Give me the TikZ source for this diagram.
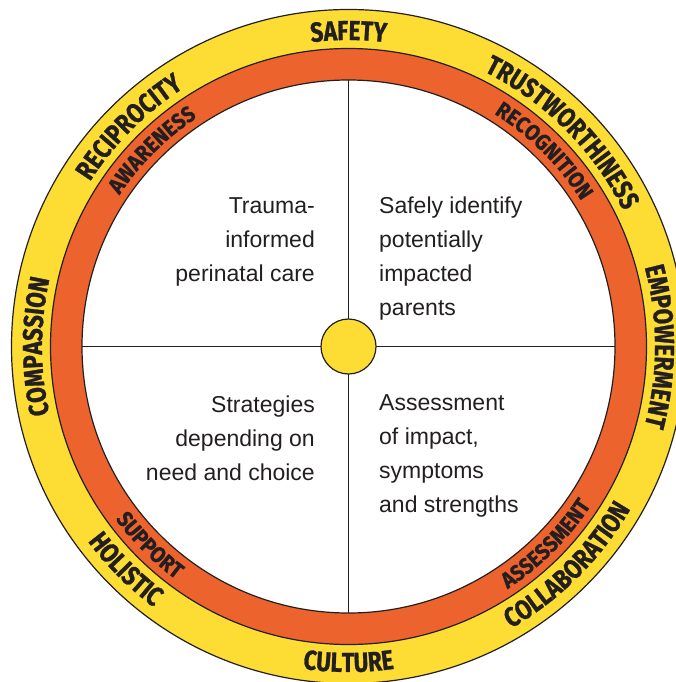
\documentclass[tikz,border=0pt]{standalone}
\usepackage{fontspec}
\setmainfont{Liberation Sans}
\newfontfamily\ringfontY{Fira Sans}[FakeStretch=0.82,FakeBold=1]
\newfontfamily\ringfontO{Fira Sans}[FakeStretch=0.9,FakeBold=1]
\usetikzlibrary{decorations.text}
\definecolor{ringyellow}{RGB}{253,221,52}
\definecolor{ringorange}{RGB}{236,99,45}
\definecolor{ink}{RGB}{35,31,32}
\tikzset{
  ring/.style={circle, draw=ink, line width=1.2pt, inner sep=0pt, outer sep=0pt},
  cross/.style={draw=ink, line width=1.4pt},
  body/.style={font=\fontsize{23}{34}\selectfont, text=ink, inner sep=0pt},
  ytext/.style={decorate, decoration={text along path, text align=center,
     text={|\color{ink}\ringfontY\bfseries\fontsize{27.5}{30}\selectfont|#1}}},
  otext/.style={decorate, decoration={text along path, text align=center,
     text={|\color{ink}\ringfontO\bfseries\fontsize{22.3}{24}\selectfont|#1}}},
}
\begin{document}
\begin{tikzpicture}[x=1pt,y=1pt]
\useasboundingbox (0,0) rectangle (676,-682);
\clip (0,0) rectangle (676,-682);
\coordinate (C) at (348.5,-346.5);
% rings
\node[ring, fill=ringyellow, minimum size=674pt] (outer) at (C) {};
\node[ring, fill=ringorange, minimum size=596pt] (mid) at (C) {};
\node[ring, fill=white, minimum size=533pt] (inner) at (C) {};
% quadrant lines
\draw[cross] (inner.north) -- (inner.south);
\draw[cross] (inner.west) -- (inner.east);
\node[ring, fill=ringyellow, minimum size=55pt] (hub) at (C) {};
% yellow ring texts (top: clockwise, bottom: counter-clockwise)
\path[ytext=SAFETY] (C) ++(130:306.5) arc[start angle=130, end angle=50, radius=306.5];
\path[ytext=TRUSTWORTHINESS] (C) ++(85:306.5) arc[start angle=85, end angle=5, radius=306.5];
\path[ytext=RECIPROCITY] (C) ++(175:306.5) arc[start angle=175, end angle=95, radius=306.5];
\path[ytext=EMPOWERMENT] (C) ++(40:306.5) arc[start angle=40, end angle=-40, radius=306.5];
\path[ytext=COMPASSION] (C) ++(220:306.5) arc[start angle=220, end angle=140, radius=306.5];
\path[ytext=CULTURE] (C) ++(230:325.5) arc[start angle=230, end angle=310, radius=325.5];
\path[ytext=HOLISTIC] (C) ++(185:325.5) arc[start angle=185, end angle=265, radius=325.5];
\path[ytext=COLLABORATION] (C) ++(275:325.5) arc[start angle=275, end angle=355, radius=325.5];
% orange ring texts
\path[otext=AWARENESS] (C) ++(175:274.5) arc[start angle=175, end angle=95, radius=274.5];
\path[otext=RECOGNITION] (C) ++(85:274.5) arc[start angle=85, end angle=5, radius=274.5];
\path[otext=SUPPORT] (C) ++(185:290) arc[start angle=185, end angle=265, radius=290];
\path[otext=ASSESSMENT] (C) ++(275:290) arc[start angle=275, end angle=355, radius=290];
% quadrant texts (base anchor = baseline of the last line)
\node[body, anchor=base east, align=right] (tl) at (315,-281) {Trauma-\\informed\\perinatal care};
\node[body, anchor=base west, align=left] (tr) at (379,-315) {Safely identify\\potentially\\impacted\\parents};
\node[body, anchor=base east, align=right] (bl) at (315,-480) {Strategies\\depending on\\need and choice};
\node[body, anchor=base west, align=left] (br) at (379,-512) {Assessment\\of impact,\\symptoms\\and strengths};
\end{tikzpicture}
\end{document}
